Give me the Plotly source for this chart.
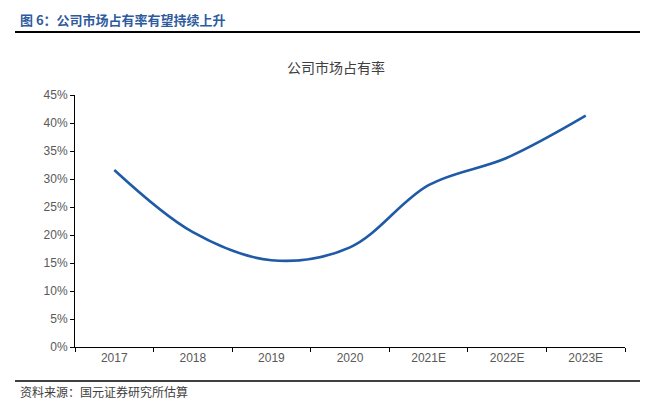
import plotly.graph_objects as go

categories = ["2017", "2018", "2019", "2020", "2021E", "2022E", "2023E"]
market_share = [0.316, 0.205, 0.155, 0.178, 0.289, 0.338, 0.413]
y_ticks = [0, 0.05, 0.10, 0.15, 0.20, 0.25, 0.30, 0.35, 0.40, 0.45]

CJK = "Noto Sans CJK SC"
L, R, T, B = 75, 20, 95, 61
W, H = 645, 408
pw, ph = W - L - R, H - T - B

def px(x):
    return (x - L) / pw

def py(y):
    return (H - B - y) / ph

fig = go.Figure()
fig.add_trace(go.Scatter(
    x=categories, y=market_share, mode="lines",
    line=dict(color="#1F5AA6", width=2.6, shape="spline", smoothing=1.0),
    hoverinfo="skip", showlegend=False,
))

fig.update_layout(
    width=W, height=H,
    margin=dict(l=L, r=R, t=T, b=B),
    paper_bgcolor="white", plot_bgcolor="white",
    font=dict(family="Liberation Sans, Arial, sans-serif", color="#595959", size=12),
    xaxis=dict(
        type="category", range=[-0.5, 6.5],
        showline=True, linecolor="black", linewidth=1,
        ticks="outside", tickson="boundaries", ticklen=4, tickcolor="black",
        showgrid=False, tickfont=dict(size=12, color="#595959"),
    ),
    yaxis=dict(
        range=[0, 0.45], tickvals=y_ticks, tickformat=".0%",
        showline=True, linecolor="black", linewidth=1,
        ticks="outside", ticklen=4, tickcolor="black",
        showgrid=False, zeroline=False, tickfont=dict(size=12, color="#595959"),
    ),
    annotations=[
        dict(text="<b>图 6：公司市场占有率有望持续上升</b>", x=px(18), y=py(20),
             xref="paper", yref="paper", xanchor="left", yanchor="middle",
             showarrow=False, font=dict(family=CJK, size=13, color="#2E5A9E")),
        dict(text="公司市场占有率", x=px(336), y=py(67),
             xref="paper", yref="paper", xanchor="center", yanchor="middle",
             showarrow=False, font=dict(family=CJK, size=14, color="#404040")),
        dict(text="资料来源：国元证券研究所估算", x=px(18), y=py(391),
             xref="paper", yref="paper", xanchor="left", yanchor="middle",
             showarrow=False, font=dict(family=CJK, size=12, color="#404040")),
    ],
    shapes=[
        dict(type="line", xref="paper", yref="paper", x0=px(15), x1=px(640),
             y0=py(32), y1=py(32), line=dict(color="black", width=2.2)),
        dict(type="line", xref="paper", yref="paper", x0=px(15), x1=px(640),
             y0=py(381), y1=py(381), line=dict(color="black", width=1.3)),
    ],
)

fig.write_html("out.html", config={"displayModeBar": False},
               post_script="document.body.style.margin='0';")
